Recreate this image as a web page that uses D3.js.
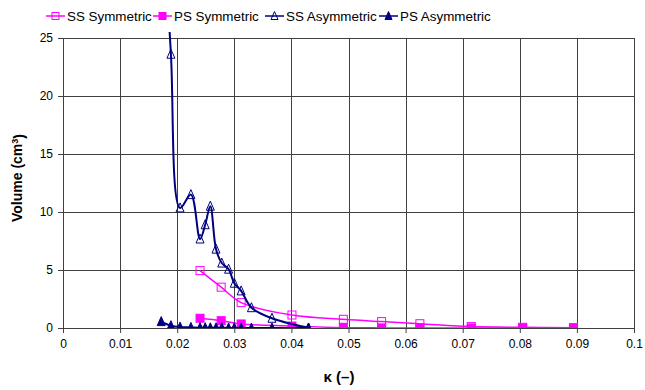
<!DOCTYPE html>
<html>
<head>
<meta charset="utf-8">
<script src="https://cdn.jsdelivr.net/npm/d3@7"></script>
<style>
  body { margin: 0; background: #fff; }
  text { font-family: "Liberation Sans", Arial, sans-serif; }
</style>
</head>
<body>
<svg width="645" height="390"></svg>
<script>
// Data
const symX = [0.0240, 0.0277, 0.0312, 0.0401, 0.0491, 0.0558, 0.0625, 0.0715, 0.0805, 0.0894];
const ssSymY = [4.95, 3.52, 2.19, 1.12, 0.75, 0.55, 0.37, 0.12, 0.06, 0.03];
const psSymY = [0.84, 0.63, 0.35, 0.17, 0.03, 0.01, 0.01, 0.0, 0.0, 0.0];

const ssAsymX = [0.0178, 0.0189, 0.0205, 0.0224, 0.0240, 0.0249, 0.0258, 0.0268, 0.0278, 0.0290, 0.0300, 0.0312, 0.0330, 0.0366, 0.0430];
const ssAsymY = [33, 23.6, 10.35, 11.5, 7.67, 8.9, 10.5, 6.8, 5.6, 5.07, 3.86, 3.2, 1.75, 0.84, 0.0];

const psAsymX = [0.0172, 0.0189, 0.0205, 0.0224, 0.0240, 0.0249, 0.0258, 0.0268, 0.0278, 0.0290, 0.0300, 0.0312, 0.0330, 0.0366, 0.0430];
const psAsymY = [0.55, 0.2, 0.08, 0.05, 0.03, 0.03, 0.02, 0.02, 0.02, 0.01, 0.01, 0.01, 0.0, 0.0, 0.0];

const xTicks = [0, 0.01, 0.02, 0.03, 0.04, 0.05, 0.06, 0.07, 0.08, 0.09, 0.1];
const yTicks = [0, 5, 10, 15, 20, 25];

const series = [
  { name: "SS Symmetric", xs: symX, ys: ssSymY, color: "#FF00FF", marker: "square", filled: false },
  { name: "PS Symmetric", xs: symX, ys: psSymY, color: "#FF00FF", marker: "square", filled: true },
  { name: "SS Asymmetric", xs: ssAsymX, ys: ssAsymY, color: "#000080", marker: "triangle", filled: false },
  { name: "PS Asymmetric", xs: psAsymX, ys: psAsymY, color: "#000080", marker: "triangle", filled: true }
];

const margin = { top: 38, right: 11, bottom: 62, left: 63 },
  width = 645 - margin.left - margin.right,
  height = 390 - margin.top - margin.bottom;

const svg = d3.select("svg");
const g = svg.append("g").attr("transform", `translate(${margin.left},${margin.top})`);

const x = d3.scaleLinear().domain([0, 0.1]).range([0, width]);
const y = d3.scaleLinear().domain([0, 25]).range([height, 0]);

// Gridlines
g.append("g")
  .selectAll("line.vg")
  .data(xTicks.slice(1))
  .enter().append("line")
  .attr("x1", d => Math.round(x(d)) + 0.5).attr("x2", d => Math.round(x(d)) + 0.5)
  .attr("y1", 0).attr("y2", height)
  .attr("stroke", "#404040");
g.append("g")
  .selectAll("line.hg")
  .data(yTicks.slice(1))
  .enter().append("line")
  .attr("y1", d => Math.round(y(d)) + 0.5).attr("y2", d => Math.round(y(d)) + 0.5)
  .attr("x1", 0).attr("x2", width)
  .attr("stroke", "#404040");

// Axes
const xAxis = g.append("g")
  .attr("transform", `translate(0,${height})`)
  .call(d3.axisBottom(x).tickValues(xTicks).tickFormat(d => d3.format("")(+d.toFixed(2))).tickSizeOuter(0).tickSize(5).tickPadding(6));
const yAxis = g.append("g")
  .call(d3.axisLeft(y).tickValues(yTicks).tickSizeOuter(0).tickSize(5).tickPadding(5));
[xAxis, yAxis].forEach(a => {
  a.select(".domain").attr("stroke", "#404040");
  a.selectAll(".tick line").attr("stroke", "#404040");
  a.selectAll(".tick text").attr("font-size", 12).attr("fill", "#000")
    .attr("font-family", "Liberation Sans, Arial, sans-serif");
});

// Clip for lines
svg.append("defs").append("clipPath").attr("id", "plot-clip")
  .append("rect").attr("x", 0).attr("y", -6).attr("width", width + 1).attr("height", height + 6);

const line = d3.line()
  .x(d => x(d[0]))
  .y(d => y(d[1]))
  .curve(d3.curveCatmullRom.alpha(0.5));

const plot = g.append("g").attr("clip-path", "url(#plot-clip)");

function drawMarker(sel, s, size) {
  if (s.marker === "square") {
    sel.append("rect")
      .attr("x", -size / 2).attr("y", -size / 2)
      .attr("width", size).attr("height", size)
      .attr("fill", s.filled ? s.color : "#fff")
      .attr("fill-opacity", s.filled ? 1 : 0)
      .attr("stroke", s.color).attr("stroke-width", 1);
  } else {
    const h = size;
    sel.append("path")
      .attr("d", `M0,${-h / 2 - 1}L${h / 2},${h / 2}L${-h / 2},${h / 2}Z`)
      .attr("fill", s.filled ? s.color : "#fff")
      .attr("fill-opacity", s.filled ? 1 : 0)
      .attr("stroke", s.color).attr("stroke-width", 1);
  }
}

series.forEach(s => {
  const pts = s.xs.map((v, i) => [v, s.ys[i]]);
  plot.append("path")
    .datum(pts)
    .attr("fill", "none")
    .attr("stroke", s.color)
    .attr("stroke-width", s.color === "#000080" ? 2 : 1.5)
    .attr("d", line);
  plot.selectAll(null)
    .data(pts.filter(p => p[1] <= 25))
    .enter().append("g")
    .attr("transform", p => `translate(${x(p[0])},${y(p[1])})`)
    .each(function() { drawMarker(d3.select(this), s, 8); });
});

// Legend
const legendPos = [46, 153, 265, 379];
const legend = svg.append("g").attr("transform", "translate(0,16)");
series.forEach((s, i) => {
  const lg = legend.append("g").attr("transform", `translate(${legendPos[i]},0)`);
  lg.append("line").attr("x1", 0).attr("x2", 19).attr("y1", 0).attr("y2", 0)
    .attr("stroke", s.color).attr("stroke-width", 1.5);
  const m = lg.append("g").attr("transform", "translate(9.5,0)");
  drawMarker(m, s, 7);
  lg.append("text").attr("x", 21).attr("y", 0).attr("dy", "0.35em")
    .attr("font-size", 13.4).text(s.name);
});

// Axis titles
svg.append("text")
  .attr("x", 339).attr("y", 377).attr("dy", "0.35em")
  .attr("text-anchor", "middle").attr("font-weight", "bold").attr("font-size", 15)
  .text("κ (–)");

const yt = svg.append("text")
  .attr("transform", "translate(17,178) rotate(-90)")
  .attr("text-anchor", "middle").attr("font-weight", "bold").attr("font-size", 14)
  .attr("dy", "0.35em");
yt.append("tspan").text("Volume (cm");
yt.append("tspan").attr("dy", "-0.45em").attr("font-size", 9).text("3");
yt.append("tspan").attr("dy", "0.45em").text(")");
</script>
</body>
</html>
